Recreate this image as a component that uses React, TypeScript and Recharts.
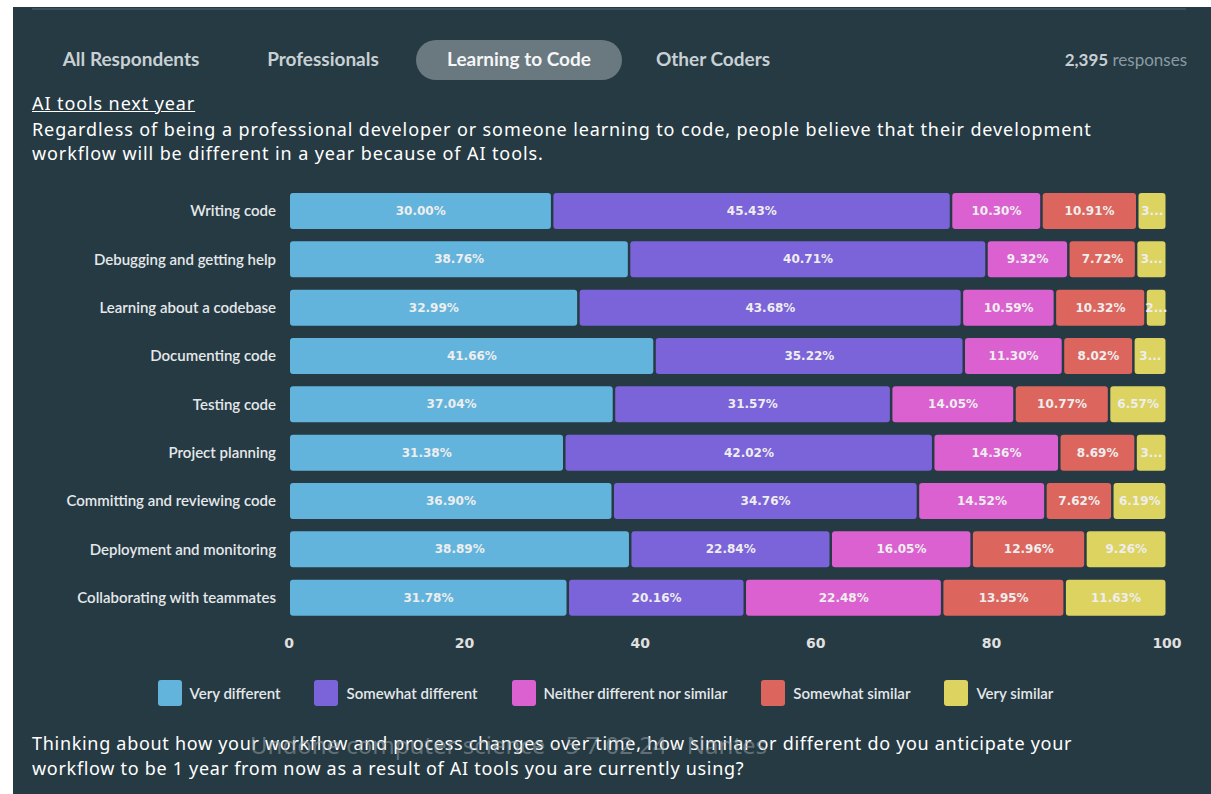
import { BarChart, Bar, XAxis, YAxis, Legend, LabelList } from 'recharts';

const categories = [
  'Writing code',
  'Debugging and getting help',
  'Learning about a codebase',
  'Documenting code',
  'Testing code',
  'Project planning',
  'Committing and reviewing code',
  'Deployment and monitoring',
  'Collaborating with teammates',
];

const veryDifferent = [30.0, 38.76, 32.99, 41.66, 37.04, 31.38, 36.9, 38.89, 31.78];
const somewhatDifferent = [45.43, 40.71, 43.68, 35.22, 31.57, 42.02, 34.76, 22.84, 20.16];
const neither = [10.3, 9.32, 10.59, 11.3, 14.05, 14.36, 14.52, 16.05, 22.48];
const somewhatSimilar = [10.91, 7.72, 10.32, 8.02, 10.77, 8.69, 7.62, 12.96, 13.95];
const verySimilar = [3.36, 3.49, 2.42, 3.8, 6.57, 3.55, 6.19, 9.26, 11.63];

const xTicks = [0, 20, 40, 60, 80, 100];

const series = [
  { key: 'veryDifferent', name: 'Very different', color: '#63b4dc' },
  { key: 'somewhatDifferent', name: 'Somewhat different', color: '#7b63d9' },
  { key: 'neither', name: 'Neither different nor similar', color: '#db60d0' },
  { key: 'somewhatSimilar', name: 'Somewhat similar', color: '#dc665e' },
  { key: 'verySimilar', name: 'Very similar', color: '#dcd360' },
];

const tabs = ['All Respondents', 'Professionals', 'Learning to Code', 'Other Coders'];
const tabCenters = [131, 323, 519, 713];

const data = categories.map((c, i) => ({
  category: c,
  veryDifferent: veryDifferent[i],
  somewhatDifferent: somewhatDifferent[i],
  neither: neither[i],
  somewhatSimilar: somewhatSimilar[i],
  verySimilar: verySimilar[i],
}));

const BG = '#263a43';
const labelFont = "'DejaVu Sans', sans-serif";

// segment with a small dark gap on the right, rounded corners
function Segment(props: any) {
  const { x, y, width, height, fill } = props;
  const w = Math.max(width - 2.5, 0);
  return <rect x={x + 1} y={y} width={w} height={height} rx={3} ry={3} fill={fill} />;
}

function SegLabel(props: any) {
  const { x, y, width, height, value } = props;
  let txt = `${Number(value).toFixed(2)}%`;
  if (txt.length * 8.2 > width - 6) txt = txt[0] + '...';
  return (
    <text
      x={x + width / 2}
      y={y + height / 2}
      dy={4}
      textAnchor="middle"
      fill="#eeeeee"
      fontFamily={labelFont}
      fontWeight="bold"
      fontSize={12}
    >
      {txt}
    </text>
  );
}

function LegendRow() {
  return (
    <div style={{ display: 'flex', justifyContent: 'center', gap: 34, width: 1211 }}>
      {series.map((s) => (
        <div key={s.key} style={{ display: 'flex', alignItems: 'center' }}>
          <div style={{ width: 24, height: 26, borderRadius: 3, background: s.color, marginRight: 8 }} />
          <span style={{ color: '#e4e8ea', fontFamily: 'Lato, sans-serif', fontWeight: 600, fontSize: 15 }}>{s.name}</span>
        </div>
      ))}
    </div>
  );
}

const textFont = "'Noto Sans', sans-serif";

export default function App() {
  return (
    <div style={{ position: 'absolute', left: 0, top: 0, width: 1211, height: 794, background: '#fff', overflow: 'hidden' }}>
      <div style={{ position: 'absolute', left: 13, top: 7, width: 1198, height: 787, background: BG }} />
      <div style={{ position: 'absolute', left: 32, top: 8, width: 1154, height: 2, background: '#3c525b' }} />

      <div style={{ position: 'absolute', left: 0, top: 0 }}>
        <BarChart
          width={1211}
          height={794}
          data={data}
          layout="vertical"
          margin={{ top: 187, right: 44, bottom: 132, left: 0 }}
          barSize={36}
        >
          <XAxis
            type="number"
            domain={[0, 100]}
            ticks={xTicks}
            axisLine={false}
            tickLine={false}
            tickSize={0}
            tickMargin={16}
            height={40}
            tick={{ fill: '#e0e0e0', fontSize: 14, fontWeight: 'bold', fontFamily: labelFont }}
          />
          <YAxis
            type="category"
            dataKey="category"
            width={289}
            axisLine={false}
            tickLine={false}
            tickSize={0}
            tickMargin={13}
            tick={{ fill: '#e4e8ea', fontSize: 15, fontWeight: 600, fontFamily: 'Lato, sans-serif' }}
          />
          <Legend
            layout="horizontal"
            verticalAlign="middle"
            wrapperStyle={{ left: 0, top: 680, width: 1211 }}
            content={() => <LegendRow />}
          />
          {series.map((s) => (
            <Bar
              key={s.key}
              dataKey={s.key}
              name={s.name}
              stackId="a"
              fill={s.color}
              shape={Segment}
              isAnimationActive={false}
            >
              <LabelList dataKey={s.key} content={SegLabel} />
            </Bar>
          ))}
        </BarChart>
      </div>

      {/* tabs */}
      <div style={{ position: 'absolute', left: 416, top: 40, width: 206, height: 40, borderRadius: 20, background: '#6a7880' }} />
      {tabs.map((t, i) => (
        <div
          key={t}
          style={{
            position: 'absolute',
            left: tabCenters[i] - 100,
            width: 200,
            textAlign: 'center',
            top: 47,
            fontFamily: 'Lato, sans-serif',
            fontWeight: 700,
            fontSize: 19,
            color: i === 2 ? '#f4f6f7' : '#c8d0d4',
          }}
        >
          {t}
        </div>
      ))}
      <div style={{ position: 'absolute', right: 1211 - 1187, top: 49, fontFamily: 'Lato, sans-serif', fontSize: 17 }}>
        <span style={{ color: '#c8d0d4', fontWeight: 700 }}>2,395</span>
        <span style={{ color: '#8a9aa2' }}> responses</span>
      </div>

      <div style={{ position: 'absolute', left: 32, top: 91, fontFamily: textFont, fontSize: 18, letterSpacing: 0.9, color: '#fff', textDecoration: 'underline', whiteSpace: 'nowrap' }}>
        AI tools next year
      </div>
      <div style={{ position: 'absolute', left: 32, top: 117, width: 1170, fontFamily: textFont, fontSize: 18, lineHeight: '24px', color: '#fff', letterSpacing: 0.9, whiteSpace: 'nowrap' }}>
        <div>Regardless of being a professional developer or someone learning to code, people believe that their development</div>
        <div>workflow will be different in a year because of AI tools.</div>
      </div>

      <div style={{ position: 'absolute', left: 32, top: 731, width: 1170, fontFamily: textFont, fontSize: 18, lineHeight: '25px', color: '#fff', letterSpacing: 0.7, whiteSpace: 'nowrap' }}>
        <div>Thinking about how your workflow and process changes over time, how similar or different do you anticipate your</div>
        <div>workflow to be 1 year from now as a result of AI tools you are currently using?</div>
      </div>
      <div style={{ position: 'absolute', left: 250, top: 728, fontFamily: textFont, fontSize: 24, color: 'rgba(150,160,165,0.55)', whiteSpace: 'nowrap' }}>
        Undone computer science - 5 7 02 24 - Nantes
      </div>
    </div>
  );
}
